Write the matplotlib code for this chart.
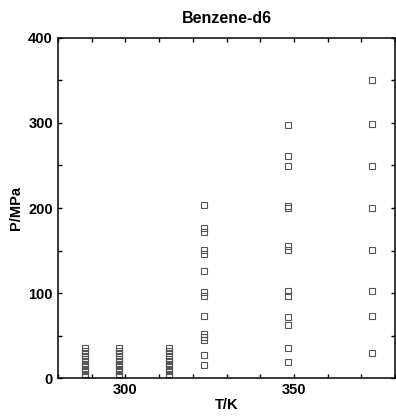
import matplotlib
matplotlib.use('Agg')
import matplotlib.pyplot as plt
from matplotlib.ticker import MultipleLocator

plt.rcParams['font.family'] = ['Liberation Sans', 'DejaVu Sans']

# low temperature isotherms, dense points up to ~35 MPa
low_T = [288.0, 298.2, 313.0]
low_P = [2, 5, 8, 11, 14, 17, 20, 23, 26, 29, 32, 35]

# isotherm at ~323 K
T323 = 323.2
P323 = [203, 177, 172, 151, 146, 126, 101, 96, 73, 52, 48, 45, 27, 15]

# isotherm at ~348 K
T348 = 348.2
P348 = [298, 261, 249, 202, 200, 155, 151, 103, 97, 72, 62, 36, 19]

# isotherm at ~373 K
T373 = 373.2
P373 = [351, 299, 249, 200, 151, 102, 73, 29]

fig = plt.figure(figsize=(3.96, 4.16), dpi=100)
ax = fig.add_axes([0.146, 0.091, 0.852, 0.818])

mk = dict(marker='s', linestyle='none', markersize=4.8, markerfacecolor='none',
          markeredgecolor='#555555', markeredgewidth=0.8)

for t in low_T:
    ax.plot([t] * len(low_P), low_P, **mk)
ax.plot([T323] * len(P323), P323, **mk)
ax.plot([T348] * len(P348), P348, **mk)
ax.plot([T373] * len(P373), P373, **mk)

ax.set_xlim(280, 380)
ax.set_ylim(0, 400)
ax.xaxis.set_major_locator(MultipleLocator(50))
ax.xaxis.set_minor_locator(MultipleLocator(10))
ax.yaxis.set_major_locator(MultipleLocator(100))
ax.yaxis.set_minor_locator(MultipleLocator(50))
ax.tick_params(which='both', direction='in', top=True, right=True,
               length=3, width=1, labelsize=10.5)
for lab in ax.get_xticklabels() + ax.get_yticklabels():
    lab.set_fontweight('bold')
for s in ax.spines.values():
    s.set_linewidth(1.1)

ax.set_title('Benzene-d6', fontsize=11.5, fontweight='bold', pad=11)
ax.set_xlabel('T/K', fontsize=10.5, fontweight='bold', labelpad=1)
ax.set_ylabel('P/MPa', fontsize=10.5, fontweight='bold', labelpad=4)

fig.savefig('out.png', dpi=100)
